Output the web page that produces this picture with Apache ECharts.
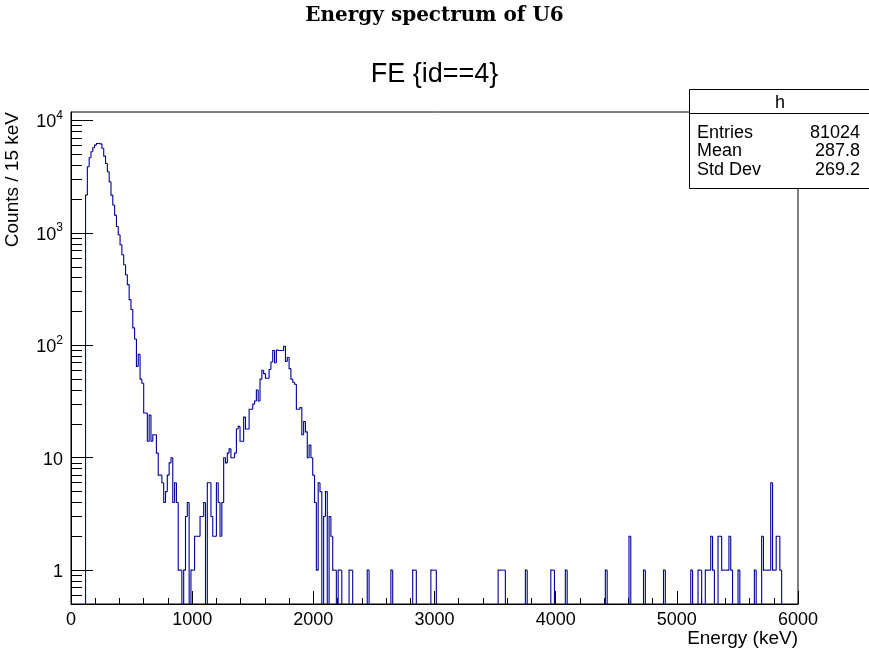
<!DOCTYPE html>
<html><head><meta charset="utf-8">
<script src="https://cdn.jsdelivr.net/npm/echarts@6/dist/echarts.min.js"></script>
<style>html,body{margin:0;padding:0;background:#fff}#c{width:869px;height:652px}</style>
</head><body><div id="c"></div>
<script>
// ---- data ----
const binWidth = 15; // keV per bin
const counts = [
  0,0,0,0,0,0,0,0,2170,3880,4660,5270,5720,6040,6250,6250,6200,5660,4820,4150,
  3500,2850,2170,1770,1440,1140,964,785,640,521,425,347,255,208,143,114,65,83,50,46,
  25,25,14,24,14,16,16,11,7,7,6,4,5,7,9,10,4,6,4,1,
  1,0,1,3,4,0,1,1,2,2,2,3,3,4,0,6,6,3,2,2,
  6,4,2,4,10,9,11,12,10,10,11,18,19,14,14,23,18,18,27,27,
  30,32,40,32,50,60,56,51,51,61,71,90,70,91,90,90,90,98,72,78,
  62,50,47,45,27,27,28,16,21,17,10,13,10,7,4,1,6,5,0,3,
  5,0,3,2,1,1,0,1,1,0,0,0,0,1,1,0,0,0,0,0,
  0,0,0,1,0,0,0,0,0,0,0,0,0,0,0,0,1,0,0,0,
  0,0,0,0,0,0,0,0,1,1,0,0,0,0,0,0,0,0,1,1,
  1,0,0,0,0,0,0,0,0,0,0,0,0,0,0,0,0,0,0,0,
  0,0,0,0,0,0,0,0,0,0,0,0,0,0,0,1,1,1,1,0,
  0,0,0,0,0,0,0,0,0,0,1,0,0,0,0,0,0,0,0,0,
  0,0,0,0,1,1,0,0,0,0,0,0,1,0,0,0,0,0,0,0,
  0,0,0,0,0,0,0,0,0,0,0,0,0,0,1,0,0,0,0,0,
  0,0,0,0,0,0,0,2,0,0,0,0,0,0,0,1,0,0,0,0,
  0,0,0,0,0,0,1,0,0,0,0,0,0,0,0,0,0,0,0,0,
  0,1,0,0,0,1,1,0,0,1,1,1,2,1,0,0,2,2,1,1,
  1,1,2,1,0,0,0,1,0,0,0,0,0,0,0,0,1,0,0,0,
  2,1,1,1,1,6,1,1,2,2,1,0,0,0,0,0,0,0,0,0
];
const yMajorTicks = [1,10,100,1000,10000];
const yMinorTicks = [0.6,0.7,0.8,0.9,2,3,4,5,6,7,8,9,20,30,40,50,60,70,80,90,
  200,300,400,500,600,700,800,900,2000,3000,4000,5000,6000,7000,8000,9000];
const statsRows = [["Entries","81024"],["Mean","287.8"],["Std Dev","269.2"]];
const statsName = "h";
const mainTitle = "Energy spectrum of U6";
const subTitle = "FE {id==4}";
const xTitle = "Energy (keV)";
const yTitle = "Counts / 15 keV";

// ---- build ----
const EMPTY = 1e-3; // empty bins fall below the frame (clipped), like ROOT on a log axis
// each bin: [lowEdge, count, previous bin count]
const binData = counts.map((c, i) => [i * binWidth, c, i > 0 ? counts[i - 1] : 0]);
const LINE_COLOR = '#000099';

function renderBin(params, api) {
  const x0 = api.value(0);
  const v = api.value(1) > 0 ? api.value(1) : EMPTY;
  const vp = api.value(2) > 0 ? api.value(2) : EMPTY;
  const a = api.coord([x0, vp]);
  const b = api.coord([x0, v]);
  const c = api.coord([x0 + binWidth, v]);
  return {
    type: 'polyline',
    shape: {points: [a, b, c]},
    style: {stroke: LINE_COLOR, lineWidth: 1.1, fill: null}
  };
}

const SANS = '"Liberation Sans", Arial, Helvetica, sans-serif';
const chart = echarts.init(document.getElementById('c'), null, {renderer:'canvas', width:869, height:652});

const statsGraphic = {
  type:'group', x: 689, y: 89, z: 100,
  children: [
    {type:'rect', shape:{x:0.5,y:0.5,width:185,height:99}, style:{fill:'#fff', stroke:'#000', lineWidth:1}},
    {type:'line', shape:{x1:0.5,y1:24.5,x2:186,y2:24.5}, style:{stroke:'#000', lineWidth:1}},
    {type:'text', x:91, y:14, style:{text:statsName, font:'18px '+SANS, fill:'#000', align:'center', verticalAlign:'middle'}}
  ].concat(statsRows.flatMap((r, k) => [
    {type:'text', x:8, y:44 + k*18.5, style:{text:r[0], font:'18px '+SANS, fill:'#000', align:'left', verticalAlign:'middle'}},
    {type:'text', x:171, y:44 + k*18.5, style:{text:r[1], font:'18px '+SANS, fill:'#000', align:'right', verticalAlign:'middle'}}
  ]))
};
const yTitleGraphic = {
  type:'text', x:13, y:112, rotation: Math.PI/2, z:50,
  style:{text:yTitle, font:'19px '+SANS, fill:'#000', align:'right', verticalAlign:'middle'}
};

const option = {
  animation: false,
  backgroundColor: '#fff',
  title: [
    {text: mainTitle, left:'center', top: 1, textStyle:{fontFamily:'"DejaVu Serif", serif', fontWeight:'bold', fontSize:20, color:'#000'}},
    {text: subTitle, left:'center', top: 56, textStyle:{fontFamily:SANS, fontWeight:'normal', fontSize:27, color:'#000'}}
  ],
  grid: {left: 71, right: 71, top: 112, bottom: 48, show: true, borderColor:'#000', borderWidth:1, backgroundColor:'transparent'},
  xAxis: {
    type:'value', min:0, max:6000, interval:1000,
    axisLine:{show:true, onZero:false, lineStyle:{color:'#000', width:1}},
    axisTick:{show:true, inside:true, length:13, lineStyle:{color:'#000'}},
    minorTick:{show:true, splitNumber:5, length:6, lineStyle:{color:'#000'}},
    splitLine:{show:false},
    axisLabel:{color:'#000', fontFamily:SANS, fontSize:18, margin:7, showMaxLabel:true, showMinLabel:true,
      formatter: v => String(v)},
    name: xTitle, nameLocation:'end', nameGap: 0,
    nameTextStyle:{color:'#000', fontFamily:SANS, fontSize:19, align:'right', verticalAlign:'top', padding:[25,0,0,0]}
  },
  yAxis: [{
    type:'log', logBase:10, min:0.5, max:11900,
    axisLine:{show:true, lineStyle:{color:'#000', width:1}},
    axisTick:{show:true, inside:true, length:22, customValues: yMajorTicks, lineStyle:{color:'#000'}},
    splitLine:{show:false},
    axisLabel:{customValues: yMajorTicks, margin:8, color:'#000',
      formatter: v => { const e = Math.round(Math.log10(v)); return e < 2 ? '{b|' + Math.round(v) + '}' : '{b|10}{s|' + e + '}'; },
      rich:{
        b:{fontFamily:SANS, fontSize:18, color:'#000', lineHeight:22, verticalAlign:'bottom'},
        s:{fontFamily:SANS, fontSize:12, color:'#000', lineHeight:12, verticalAlign:'top'}
      }
    }
  },{
    type:'log', logBase:10, min:0.5, max:11900, position:'left', offset:0,
    axisLine:{show:false}, splitLine:{show:false},
    axisTick:{show:true, inside:true, length:11, customValues: yMinorTicks, lineStyle:{color:'#000'}},
    axisLabel:{show:false}
  }],
  series: [{
    type:'custom', data: binData, yAxisIndex:0, clip:true,
    encode:{x:0, y:1},
    renderItem: renderBin
  }],
  graphic: [statsGraphic, yTitleGraphic]
};
chart.setOption(option);
</script></body></html>
